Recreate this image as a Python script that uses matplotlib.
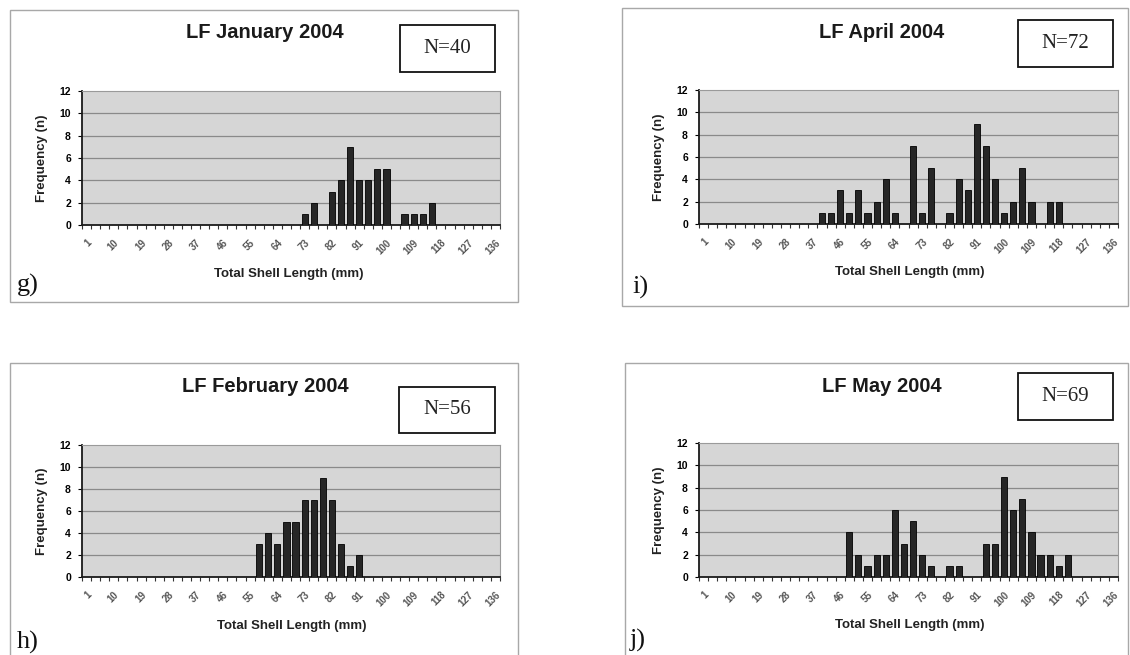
import matplotlib
matplotlib.use("Agg")
import matplotlib.pyplot as plt
from matplotlib.patches import Rectangle

W, H = 1130, 655

# size classes on the x axis (mm), one bar slot each
size_classes = [1, 4, 7, 10, 13, 16, 19, 22, 25, 28, 31, 34, 37, 40, 43, 46,
                49, 52, 55, 58, 61, 64, 67, 70, 73, 76, 79, 82, 85, 88, 91, 94,
                97, 100, 103, 106, 109, 112, 115, 118, 121, 124, 127, 130, 133, 136]
tick_labels = size_classes[::3]

# January 2004
jan_len = [73, 76, 82, 85, 88, 91, 94, 97, 100, 106, 109, 112, 115]
jan_n = [1, 2, 3, 4, 7, 4, 4, 5, 5, 1, 1, 1, 2]

# February 2004
feb_len = [58, 61, 64, 67, 70, 73, 76, 79, 82, 85, 88, 91]
feb_n = [3, 4, 3, 5, 5, 7, 7, 9, 7, 3, 1, 2]

# April 2004
apr_len = [40, 43, 46, 49, 52, 55, 58, 61, 64, 70, 73, 76, 82, 85, 88, 91,
           94, 97, 100, 103, 106, 109, 115, 118]
apr_n = [1, 1, 3, 1, 3, 1, 2, 4, 1, 7, 1, 5, 1, 4, 3, 9,
         7, 4, 1, 2, 5, 2, 2, 2]

# May 2004
may_len = [49, 52, 55, 58, 61, 64, 67, 70, 73, 76, 82, 85, 94, 97, 100, 103,
           106, 109, 112, 115, 118, 121]
may_n = [4, 2, 1, 2, 2, 6, 3, 5, 2, 1, 1, 1, 3, 3, 9, 6,
         7, 4, 2, 2, 1, 2]


def fx(x):
    return x / W


def fy(y):
    return 1 - y / H


fig = plt.figure(figsize=(W / 100, H / 100), dpi=100)
fig.patch.set_facecolor("white")

panels = [
    dict(title="LF January 2004", n="N=40", letter="g)", lens=jan_len, counts=jan_n,
         frame=(10, 10, 518, 302), plot=(82, 91, 500, 225), tpos=(265, 33),
         nbox=(400, 25, 495, 72), xl=(289, 274), lp=(28, 285)),
    dict(title="LF April 2004", n="N=72", letter="i)", lens=apr_len, counts=apr_n,
         frame=(622, 8, 1128, 306), plot=(699, 90, 1118, 224), tpos=(882, 32),
         nbox=(1018, 20, 1113, 67), xl=(910, 272), lp=(640, 287)),
    dict(title="LF February 2004", n="N=56", letter="h)", lens=feb_len, counts=feb_n,
         frame=(10, 363, 518, 662), plot=(82, 445, 500, 577), tpos=(265, 387),
         nbox=(399, 387, 495, 433), xl=(292, 626), lp=(28, 642)),
    dict(title="LF May 2004", n="N=69", letter="j)", lens=may_len, counts=may_n,
         frame=(625, 363, 1128, 662), plot=(699, 443, 1118, 577), tpos=(882, 387),
         nbox=(1018, 373, 1113, 420), xl=(910, 625), lp=(638, 640)),
]

for p in panels:
    # panel frame
    x0, y0, x1, y1 = p["frame"]
    fig.add_artist(Rectangle((fx(x0), fy(y1)), fx(x1) - fx(x0), fy(y0) - fy(y1),
                             transform=fig.transFigure, fill=False,
                             edgecolor="#a8a8a8", linewidth=1.0))

    # chart area
    px0, py0, px1, py1 = p["plot"]
    ax = fig.add_axes([fx(px0), fy(py1), fx(px1) - fx(px0), fy(py0) - fy(py1)])
    ax.set_facecolor("#d6d6d6")
    pos = [size_classes.index(v) for v in p["lens"]]
    ax.bar(pos, p["counts"], width=0.68, color="#262626", edgecolor="black",
           linewidth=0.6, zorder=3)
    ax.set_xlim(-0.5, len(size_classes) - 0.5)
    ax.set_ylim(0, 12)
    ax.set_yticks([0, 2, 4, 6, 8, 10, 12])
    for g in [2, 4, 6, 8, 10]:
        ax.axhline(g, color="#8a8a8a", linewidth=0.9, zorder=1)
    ax.set_xticks(range(0, len(size_classes), 3))
    ax.set_xticklabels(tick_labels, rotation=45, ha="right", rotation_mode="anchor",
                       fontsize=7, color="#555555", fontweight="bold")
    ax.set_xticks([i - 0.5 for i in range(len(size_classes) + 1)], minor=True)
    ax.tick_params(axis="x", which="major", length=0, pad=9)
    ax.tick_params(axis="x", which="minor", length=3, width=0.8, color="#333333")
    ax.tick_params(axis="y", length=3, width=0.8, pad=5, labelsize=7.5)
    for lab in ax.get_yticklabels():
        lab.set_fontweight("bold")
        lab.set_family("Liberation Sans")
    for lab in ax.get_xticklabels():
        lab.set_family("Liberation Sans")
    for s in ["left", "bottom"]:
        ax.spines[s].set_color("#1a1a1a")
        ax.spines[s].set_linewidth(1.3)
    for s in ["top", "right"]:
        ax.spines[s].set_color("#9a9a9a")
        ax.spines[s].set_linewidth(0.8)

    # texts
    fig.text(fx(px0 - 40), fy((py0 + py1) / 2), "Frequency (n)", rotation=90,
             ha="center", va="center", fontsize=9.5, fontweight="bold",
             family="Liberation Sans", color="#222222")
    fig.text(fx(p["xl"][0]), fy(p["xl"][1]), "Total Shell Length (mm)",
             ha="center", va="center", fontsize=9.5, fontweight="bold",
             family="Liberation Sans", color="#222222")
    fig.text(fx(p["tpos"][0]), fy(p["tpos"][1]), p["title"], ha="center",
             va="center", fontsize=14.5, fontweight="bold",
             family="Liberation Sans", color="#1a1a1a")

    # N box
    bx0, by0, bx1, by1 = p["nbox"]
    fig.add_artist(Rectangle((fx(bx0), fy(by1)), fx(bx1) - fx(bx0), fy(by0) - fy(by1),
                             transform=fig.transFigure, facecolor="white",
                             edgecolor="#111111", linewidth=1.3))
    fig.text(fx((bx0 + bx1) / 2), fy((by0 + by1) / 2), p["n"], ha="center",
             va="center", fontsize=15, family="Liberation Serif", color="#222222")

    # panel letter
    fig.text(fx(p["lp"][0]), fy(p["lp"][1]), p["letter"], ha="center", va="center",
             fontsize=19, family="Liberation Serif", color="#111111")

fig.savefig("out.png", dpi=100)
plt.close(fig)
